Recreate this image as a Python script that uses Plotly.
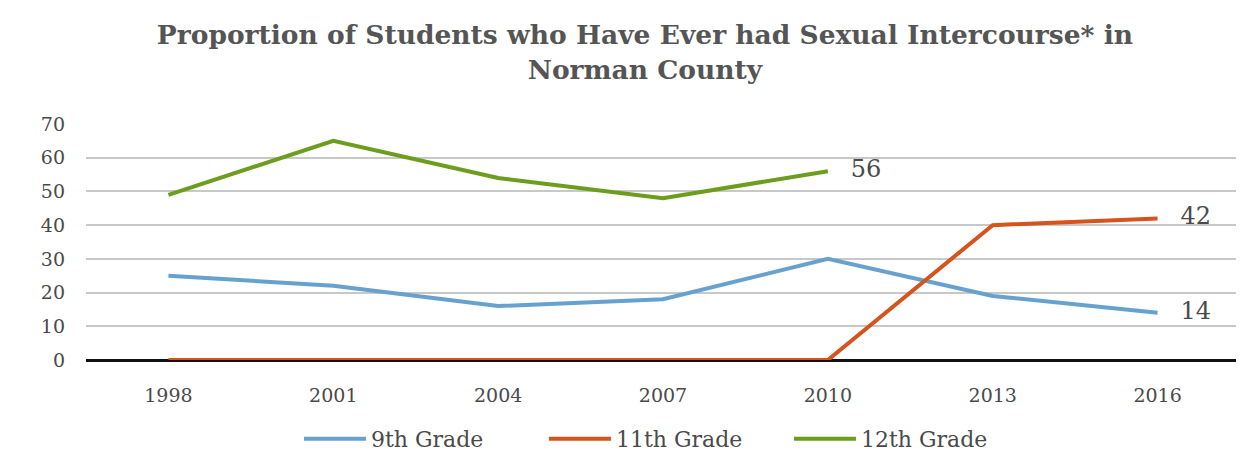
import plotly.graph_objects as go

years = ["1998", "2001", "2004", "2007", "2010", "2013", "2016"]
grade9 = [25, 22, 16, 18, 30, 19, 14]
grade11 = [0, 0, 0, 0, 0, 40, 42]
grade12 = [49, 65, 54, 48, 56, None, None]
y_ticks = [0, 10, 20, 30, 40, 50, 60, 70]

colors = {"9th Grade": "#67A1CF", "11th Grade": "#D5541E", "12th Grade": "#6C9D1F"}
text_color = "#4a4a4a"
serif = "DejaVu Serif, Liberation Serif, serif"

def end_labels(vals):
    last = max(i for i, v in enumerate(vals) if v is not None)
    return ["\u00a0\u00a0\u00a0" + str(v) if i == last else "" for i, v in enumerate(vals)]

fig = go.Figure()
for name, vals in [("9th Grade", grade9), ("11th Grade", grade11), ("12th Grade", grade12)]:
    fig.add_trace(go.Scatter(
        x=years, y=vals, name=name, mode="lines+text",
        line=dict(color=colors[name], width=4),
        text=end_labels(vals), textposition="middle right",
        textfont=dict(family=serif, size=24, color=text_color),
        cliponaxis=False,
    ))

fig.update_layout(
    width=1244, height=453,
    margin=dict(l=78, r=12, t=116, b=101, autoexpand=False),
    paper_bgcolor="white", plot_bgcolor="white",
    title=dict(
        text="<b>Proportion of Students who Have Ever had Sexual Intercourse* in<br>Norman County</b>",
        x=0.512, xanchor="center", y=0.92, yanchor="middle",
        font=dict(family=serif, size=26.5, color="#555555"),
    ),
    font=dict(family=serif, color=text_color),
    showlegend=True,
    legend=dict(
        orientation="h", x=0.503, xanchor="center", y=-0.335, yanchor="middle",
        font=dict(family=serif, size=22, color=text_color),
        itemwidth=62,
        entrywidth=168, entrywidthmode="pixels",
    ),
    xaxis=dict(
        type="category", range=[-0.5, 6.5], showgrid=False, zeroline=False, showline=False,
        tickfont=dict(family=serif, size=19, color=text_color),
        ticks="", ticklabelstandoff=22,
    ),
    yaxis=dict(
        range=[0, 70], tickvals=y_ticks, showgrid=True,
        gridcolor="#c8c8c8", gridwidth=2,
        zeroline=True, zerolinecolor="#111111", zerolinewidth=2.5,
        showline=False, ticks="",
        tickfont=dict(family=serif, size=19, color=text_color),
        ticklabelstandoff=20,
    ),
)

fig.write_html("out.html")
